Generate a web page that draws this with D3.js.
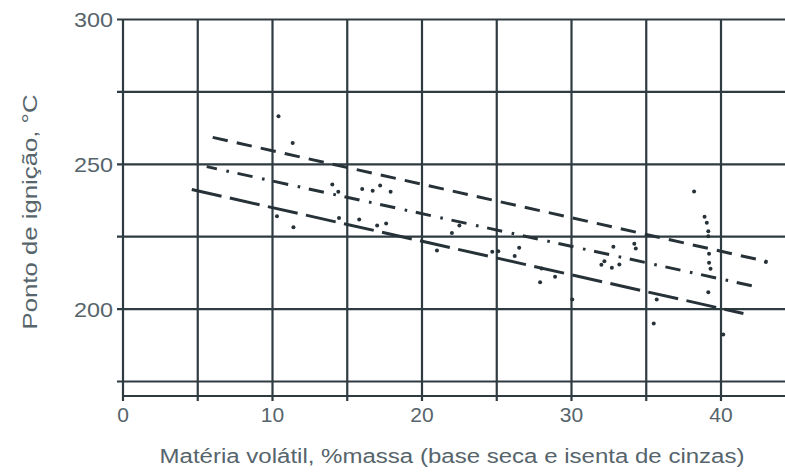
<!DOCTYPE html>
<html>
<head>
<meta charset="utf-8">
<script src="https://cdn.jsdelivr.net/npm/d3@7"></script>
<style>
  html, body { margin: 0; padding: 0; background: #ffffff; }
  svg { display: block; }
  text { font-family: "Liberation Sans", Arial, sans-serif; fill: #56646b; }
</style>
</head>
<body>
<svg id="chart" width="785" height="472"></svg>
<script>
// ---- data ----
const xGrid = [0, 5, 10, 15, 20, 25, 30, 35, 40, 45];
const xTickLabels = [0, 10, 20, 30, 40];
const yGrid = [175, 200, 225, 250, 275, 300];
const yTickLabels = [200, 250, 300];
const pointsX = [10.4, 11.35, 10.3, 11.4, 14.0, 14.4, 16.0, 16.7, 17.2, 17.9,
  14.45, 15.8, 17.0, 17.6, 21.0, 22.5, 22.0, 24.7, 25.1, 26.5, 26.2, 28.0, 27.9, 28.9,
  32.8, 32.2, 32.0, 32.7, 33.2, 34.2, 34.3, 30.05, 35.7, 35.5,
  38.2, 38.9, 39.05, 39.15, 39.15, 39.2, 39.2, 39.3, 39.15, 40.15, 43.0];
const pointsY = [266.6, 257.4, 232.1, 228.3, 243.0, 240.5, 241.5, 240.9, 242.7, 240.5,
  231.5, 230.9, 228.9, 229.6, 220.2, 228.9, 226.3, 219.8, 220.0, 221.2, 218.3, 214.0, 209.3, 211.2,
  221.5, 216.5, 215.3, 214.3, 215.4, 222.6, 220.9, 203.3, 203.3, 195.0,
  240.6, 231.9, 229.8, 226.9, 225.2, 219.1, 216.0, 213.9, 205.8, 191.2, 216.3];
// band lines: [x0, y0, x1, y1]
const upperLine = [6.0, 259.3, 43.1, 216.4];
const middleLine = [5.6, 249.2, 42.3, 207.8];
const lowerLine = [4.6, 241.3, 41.5, 198.5];
const xTitle = "Matéria volátil, %massa (base seca e isenta de cinzas)";
const yTitle = "Ponto de ignição, °C";

// ---- scales ----
const x = d3.scaleLinear().domain([0, 45]).range([123, 123 + 45 * 14.95]);
const y = d3.scaleLinear().domain([170, 300]).range([396, 19.5]);

const svg = d3.select("#chart");
const gridColor = "#2e3b41";

// grid: vertical lines (extend slightly below axis as ticks)
svg.append("g").selectAll("line").data(xGrid).join("line")
  .attr("x1", d => x(d)).attr("x2", d => x(d))
  .attr("y1", y(300)).attr("y2", y(170) + 5)
  .attr("stroke", gridColor).attr("stroke-width", 2.2);

// grid: horizontal lines (extend slightly left of axis as ticks)
svg.append("g").selectAll("line").data(yGrid).join("line")
  .attr("x1", x(0) - 6).attr("x2", x(45))
  .attr("y1", d => y(d)).attr("y2", d => y(d))
  .attr("stroke", gridColor).attr("stroke-width", 2.2);

// bottom axis line
svg.append("line")
  .attr("x1", x(0)).attr("x2", x(45))
  .attr("y1", y(170)).attr("y2", y(170))
  .attr("stroke", gridColor).attr("stroke-width", 2.2);

// tick labels
svg.append("g").selectAll("text").data(yTickLabels).join("text")
  .attr("x", 113).attr("y", d => y(d)).attr("dy", "0.36em")
  .attr("text-anchor", "end").attr("font-size", 21)
  .attr("textLength", 39).attr("lengthAdjust", "spacingAndGlyphs")
  .text(d => d);

svg.append("g").selectAll("text").data(xTickLabels).join("text")
  .attr("x", d => x(d)).attr("y", 422)
  .attr("text-anchor", "middle").attr("font-size", 21)
  .text(d => d);

// axis titles
svg.append("text")
  .attr("x", 452).attr("y", 463)
  .attr("text-anchor", "middle").attr("font-size", 20)
  .attr("textLength", 585).attr("lengthAdjust", "spacingAndGlyphs")
  .text(xTitle);

svg.append("text")
  .attr("transform", "translate(37,212) rotate(-90)")
  .attr("text-anchor", "middle").attr("font-size", 20)
  .attr("textLength", 235).attr("lengthAdjust", "spacingAndGlyphs")
  .text(yTitle);

// band lines
function band(l, dash, offset) {
  svg.append("line")
    .attr("x1", x(l[0])).attr("y1", y(l[1]))
    .attr("x2", x(l[2])).attr("y2", y(l[3]))
    .attr("stroke", "#263238").attr("stroke-width", 3)
    .attr("stroke-dasharray", dash)
    .attr("stroke-dashoffset", offset);
}
band(upperLine, "15.4 9.2", 0);
band(middleLine, "15.4 9.7 2.6 8.8", 5);
band(lowerLine, "30.5 8.5", 0);

// scatter points
svg.append("g").selectAll("circle").data(pointsX.map((v, i) => [v, pointsY[i]])).join("circle")
  .attr("cx", d => x(d[0])).attr("cy", d => y(d[1]))
  .attr("r", 2).attr("fill", "#263238");
</script>
</body>
</html>
